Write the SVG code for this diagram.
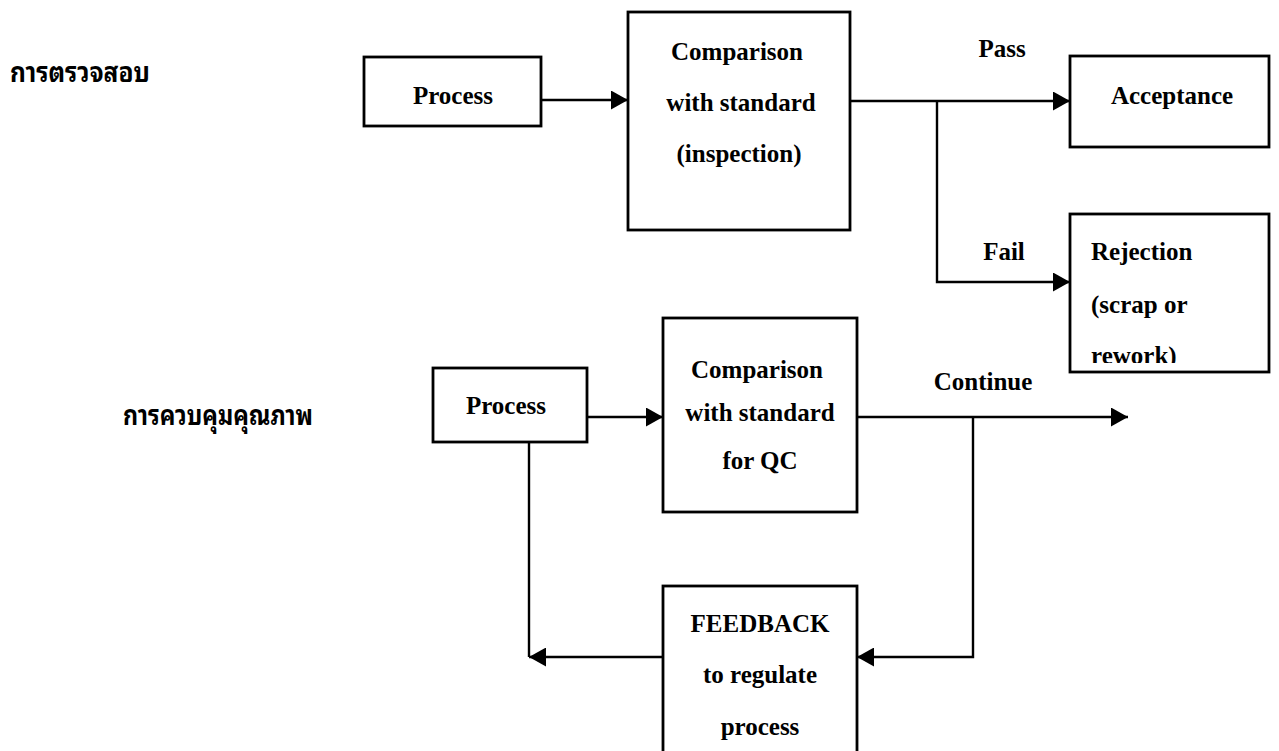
<svg xmlns="http://www.w3.org/2000/svg" width="1279" height="751" viewBox="0 0 1279 751">
  <style>
    .box { fill: #ffffff; stroke: #000000; stroke-width: 2.8; }
    .wire { fill: none; stroke: #000000; stroke-width: 2.4; }
    .lbl { font-family: "Liberation Serif", "Times New Roman", serif; font-weight: bold; font-size: 25px; fill: #000000; }
    .mid { text-anchor: middle; }
    .thai { font-family: "Noto Sans Thai Looped", "Noto Serif Thai", "Loma", "Garuda", "Noto Sans Thai", "Noto Sans", "DejaVu Sans", sans-serif; font-weight: bold; font-size: 28px; fill: #000000; }
  </style>
  <defs>
    <marker id="arrow" viewBox="0 0 17 19" refX="17" refY="9.5" markerWidth="17" markerHeight="19" markerUnits="userSpaceOnUse" orient="auto">
      <path d="M0,0 L17,9.5 L0,19 Z" fill="#000000"/>
    </marker>
    <clipPath id="rejClip">
      <rect x="1072" y="216" width="196" height="147"/>
    </clipPath>
  </defs>

  <rect width="1279" height="751" fill="#ffffff"/>

  <!-- section headings -->
  <text class="thai" x="10" y="82" textLength="140" lengthAdjust="spacingAndGlyphs">การตรวจสอบ</text>
  <text class="thai" x="123" y="425" textLength="190" lengthAdjust="spacingAndGlyphs">การควบคุมคุณภาพ</text>

  <!-- connectors -->
  <g id="connectors">
    <line class="wire" x1="541" y1="100" x2="628" y2="100" marker-end="url(#arrow)"/>
    <line class="wire" x1="850" y1="101" x2="1070" y2="101" marker-end="url(#arrow)"/>
    <polyline class="wire" points="937,101 937,282 1070,282" marker-end="url(#arrow)"/>
    <line class="wire" x1="587" y1="417" x2="663" y2="417" marker-end="url(#arrow)"/>
    <line class="wire" x1="857" y1="417" x2="1128" y2="417" marker-end="url(#arrow)"/>
    <polyline class="wire" points="973,417 973,657 857,657" marker-end="url(#arrow)"/>
    <line class="wire" x1="663" y1="657" x2="529" y2="657" marker-end="url(#arrow)"/>
    <line class="wire" x1="529" y1="442" x2="529" y2="657"/>
    <text class="lbl mid" x="1002" y="57">Pass</text>
    <text class="lbl mid" x="1004" y="260">Fail</text>
    <text class="lbl mid" x="983" y="390">Continue</text>
  </g>

  <!-- inspection row -->
  <g id="process-top">
    <rect class="box" x="364" y="57" width="177" height="69"/>
    <text class="lbl mid" x="453" y="104">Process</text>
  </g>
  <g id="compare-inspection">
    <rect class="box" x="628" y="12" width="222" height="218"/>
    <text class="lbl mid" x="737" y="60">Comparison</text>
    <text class="lbl mid" x="741" y="111">with standard</text>
    <text class="lbl mid" x="739" y="162">(inspection)</text>
  </g>
  <g id="acceptance">
    <rect class="box" x="1070" y="56" width="199" height="91"/>
    <text class="lbl mid" x="1172" y="104">Acceptance</text>
  </g>
  <g id="rejection">
    <rect class="box" x="1070" y="214" width="199" height="158"/>
    <g clip-path="url(#rejClip)">
      <text class="lbl" x="1091" y="260">Rejection</text>
      <text class="lbl" x="1091" y="313">(scrap or</text>
      <text class="lbl" x="1091" y="364">rework)</text>
    </g>
  </g>

  <!-- quality control row -->
  <g id="process-qc">
    <rect class="box" x="433" y="368" width="154" height="74"/>
    <text class="lbl mid" x="506" y="414">Process</text>
  </g>
  <g id="compare-qc">
    <rect class="box" x="663" y="318" width="194" height="194"/>
    <text class="lbl mid" x="757" y="378">Comparison</text>
    <text class="lbl mid" x="760" y="421">with standard</text>
    <text class="lbl mid" x="760" y="469">for QC</text>
  </g>
  <g id="feedback">
    <rect class="box" x="663" y="586" width="194" height="180"/>
    <text class="lbl mid" x="760" y="632">FEEDBACK</text>
    <text class="lbl mid" x="760" y="683">to regulate</text>
    <text class="lbl mid" x="760" y="735">process</text>
  </g>
</svg>
